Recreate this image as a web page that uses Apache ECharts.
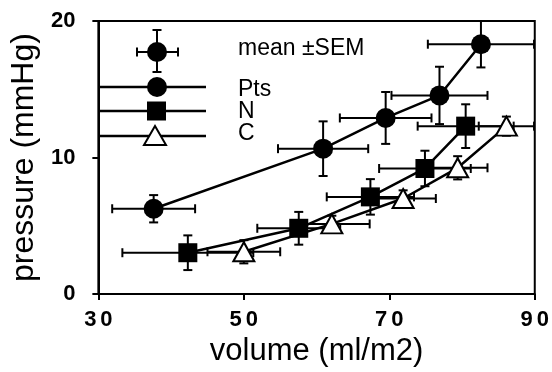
<!DOCTYPE html>
<html>
<head>
<meta charset="utf-8">
<script src="https://cdn.jsdelivr.net/npm/echarts@6/dist/echarts.min.js"></script>
<style>
  html, body { margin: 0; padding: 0; background: #fff; }
  #chart { width: 552px; height: 372px; }
</style>
</head>
<body>
<div id="chart"></div>
<script>
// values (volume ml/m2, pressure mmHg, +- SEM)
const ptsX = [37.6, 60.9, 69.5, 76.9, 82.6];
const ptsY = [6.25, 10.65, 12.9, 14.55, 18.3];
const ptsXErr = [5.7, 6.2, 6.3, 6.6, 7.3];
const ptsYErr = [1.0, 2.0, 1.9, 2.1, 1.7];

const nX = [42.3, 57.55, 67.4, 74.9, 80.5];
const nY = [3.03, 4.82, 7.12, 9.2, 12.3];
const nXErr = [9.0, 5.7, 6.0, 6.3, 6.6];
const nYErr = [1.27, 1.2, 1.3, 1.3, 1.6];

const cX = [50.0, 62.1, 71.9, 79.4, 86.1];
const cY = [3.1, 5.14, 7.0, 9.25, 12.3];
const cXErr = [5.0, 5.2, 4.5, 4.1, 3.8];
const cYErr = [0.85, 0.6, 0.6, 0.85, 0.7];

const xTicks = [30, 50, 70, 90];
const yTicks = [0, 10, 20];

const zip = (xs, ys) => xs.map((x, i) => [x, ys[i]]);
const zipErr = (xs, ys, xe, ye) => xs.map((x, i) => [x, ys[i], xe[i], ye[i]]);

const CAP = 4.5;
function renderErr(params, api) {
  const x = api.value(0), y = api.value(1), xe = api.value(2), ye = api.value(3);
  const l = api.coord([x - xe, y]), r = api.coord([x + xe, y]);
  const t = api.coord([x, y + ye]), b = api.coord([x, y - ye]);
  const st = {stroke: '#000', lineWidth: 2};
  const seg = (x1, y1, x2, y2) => ({type: 'line', shape: {x1, y1, x2, y2}, style: st});
  return {
    type: 'group',
    children: [
      seg(l[0], l[1], r[0], r[1]),
      seg(t[0], t[1], b[0], b[1]),
      seg(l[0], l[1] - CAP, l[0], l[1] + CAP),
      seg(r[0], r[1] - CAP, r[0], r[1] + CAP),
      seg(t[0] - CAP, t[1], t[0] + CAP, t[1]),
      seg(b[0] - CAP, b[1], b[0] + CAP, b[1]),
    ]
  };
}

const errSeries = data => ({
  type: 'custom', renderItem: renderErr, data, z: 2,
  encode: {x: 0, y: 1}, silent: true
});

const chart = echarts.init(document.getElementById('chart'));

const labelFont = {fontFamily: 'Liberation Sans, Arial, sans-serif', color: '#000'};
const lineStyle = {color: '#000', width: 2.5};

// hand-drawn legend block (sits over the upper left of the plot)
const legendLine = (y) => ({type: 'line', shape: {x1: 98, y1: y, x2: 206, y2: y}, style: {stroke: '#000', lineWidth: 2.5}});
const legendText = (text, y) => ({
  type: 'text', x: 238, y,
  style: {text, font: '23px Liberation Sans, Arial, sans-serif', fill: '#000', textVerticalAlign: 'middle'}
});
const ls = {stroke: '#000', lineWidth: 2};

chart.setOption({
  animation: false,
  grid: {left: 98, right: 17, top: 21, bottom: 71, show: true, borderColor: '#000', borderWidth: 2},
  xAxis: {
    type: 'value', min: 30, max: 90, interval: 20,
    name: 'volume (ml/m2)', nameLocation: 'middle', nameGap: 33,
    nameTextStyle: Object.assign({fontSize: 31}, labelFont),
    axisLine: {lineStyle: {color: '#000', width: 2}},
    axisTick: {length: 6, lineStyle: {color: '#000', width: 2}},
    splitLine: {show: false},
    axisLabel: Object.assign({
      fontSize: 22, fontWeight: 'bold', margin: 15,
      // the digits are printed a little apart in the original
      formatter: v => xTicks.includes(v) ? String(v).split('').map(d => '{d|' + d + '}').join('') : '',
      rich: {d: {fontSize: 22, fontWeight: 'bold', fontFamily: 'Liberation Sans, Arial, sans-serif', padding: [0, 2, 0, 2]}}
    }, labelFont)
  },
  yAxis: {
    type: 'value', min: 0, max: 20, interval: 10,
    name: 'pressure (mmHg)', nameLocation: 'middle', nameGap: 56,
    nameTextStyle: Object.assign({fontSize: 32}, labelFont),
    axisLine: {show: true, lineStyle: {color: '#000', width: 2}},
    axisTick: {show: true, length: 6, lineStyle: {color: '#000', width: 2}},
    splitLine: {show: false},
    axisLabel: Object.assign({
      fontSize: 22, fontWeight: 'bold', margin: 23,
      formatter: v => yTicks.includes(v) ? String(v) : ''
    }, labelFont)
  },
  graphic: [
    // mean +- SEM key
    {type: 'line', shape: {x1: 137, y1: 52, x2: 178, y2: 52}, style: ls},
    {type: 'line', shape: {x1: 137, y1: 47.5, x2: 137, y2: 56.5}, style: ls},
    {type: 'line', shape: {x1: 178, y1: 47.5, x2: 178, y2: 56.5}, style: ls},
    {type: 'line', shape: {x1: 157, y1: 30, x2: 157, y2: 72}, style: ls},
    {type: 'line', shape: {x1: 152.5, y1: 30, x2: 161.5, y2: 30}, style: ls},
    {type: 'line', shape: {x1: 152.5, y1: 72, x2: 161.5, y2: 72}, style: ls},
    {type: 'circle', shape: {cx: 157, cy: 52, r: 10}, style: {fill: '#000'}},
    legendText('mean \u00b1SEM', 49),
    // Pts
    legendLine(87),
    {type: 'circle', shape: {cx: 157, cy: 87, r: 10}, style: {fill: '#000'}},
    legendText('Pts', 90),
    // N
    legendLine(111),
    {type: 'rect', shape: {x: 147, y: 101.5, width: 19, height: 19}, style: {fill: '#000'}},
    legendText('N', 112),
    // C
    legendLine(136),
    {type: 'polygon', shape: {points: [[155, 126], [166, 145], [144, 145]]}, style: {fill: '#fff', stroke: '#000', lineWidth: 2}},
    legendText('C', 134)
  ],
  series: [
    errSeries(zipErr(ptsX, ptsY, ptsXErr, ptsYErr)),
    errSeries(zipErr(nX, nY, nXErr, nYErr)),
    errSeries(zipErr(cX, cY, cXErr, cYErr)),
    {
      name: 'C', type: 'line', data: zip(cX, cY), z: 3,
      symbol: 'triangle', symbolSize: [21, 19],
      itemStyle: {color: '#fff', borderColor: '#000', borderWidth: 2},
      lineStyle
    },
    {
      name: 'N', type: 'line', data: zip(nX, nY), z: 4,
      symbol: 'rect', symbolSize: 19,
      itemStyle: {color: '#000'}, lineStyle
    },
    {
      name: 'Pts', type: 'line', data: zip(ptsX, ptsY), z: 4,
      symbol: 'circle', symbolSize: 20,
      itemStyle: {color: '#000'}, lineStyle
    }
  ]
});
</script>
</body>
</html>
